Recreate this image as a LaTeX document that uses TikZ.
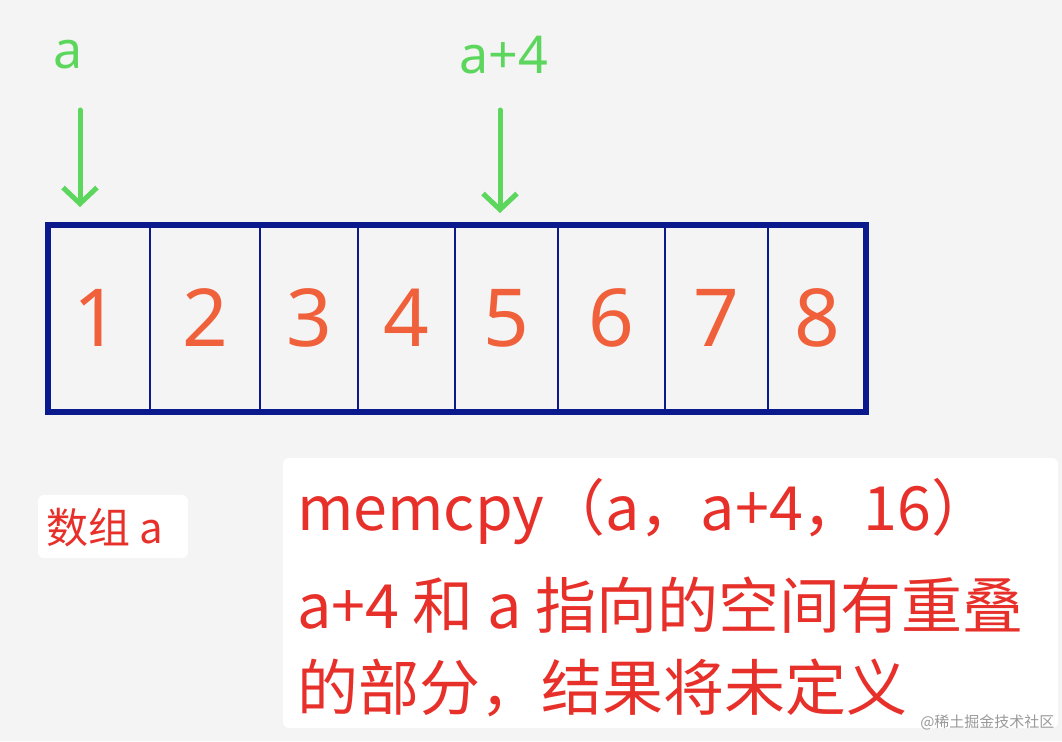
\documentclass[tikz,border=0pt]{standalone}
\usepackage{fontspec}
\setmainfont{Noto Sans}
\newfontfamily\cjk{Noto Sans CJK SC}
\usetikzlibrary{arrows.meta}
\definecolor{bg}{HTML}{F4F4F4}
\definecolor{arr}{HTML}{0A1A8C}
\definecolor{num}{HTML}{F0603A}
\definecolor{grn}{HTML}{5CD65C}
\definecolor{rtx}{HTML}{E8302A}
\tikzset{
  numtxt/.style={text=num,font=\bfseries\fontsize{80}{80}\selectfont},
  gtxt/.style={text=grn,font=\fontsize{52}{52}\selectfont},
  garrow/.style={draw=grn,line width=5pt,line cap=round,-{Straight Barb[length=16pt,width=34pt,line width=5pt]}},
  rtxt/.style={text=rtx,anchor=west,font=\cjk\fontsize{61}{61}\selectfont,inner sep=0pt},
  wbox/.style={fill=white,draw=none,rounded corners=6pt}
}
\begin{document}
\begin{tikzpicture}[x=1pt,y=-1pt]
\fill[bg] (0,0) rectangle (1062,741);
\useasboundingbox (0,0) rectangle (1062,741);
\foreach \x in {150,260,358,455,558,665,768}{\draw[arr,line width=2pt] (\x,225) -- (\x,412);}
\draw[arr,line width=6pt] (48,225) rectangle (866,412);
\foreach \n/\x in {1/96,2/205,3/309,4/406,5/506,6/611,7/716,8/817}{\node[numtxt] (n\n) at (\x,318) {\n};}
\node[gtxt] (la) at (68,55) {a};
\node[gtxt] (lb) at (504,55) {a+4};
\coordinate (ta) at (80,207);
\coordinate (tb) at (500,213);
\draw[garrow] (80,110) -- (ta);
\draw[garrow] (500,110) -- (tb);
\fill[wbox] (38,495) rectangle (188,558);
\node[rtxt,font=\cjk\fontsize{42}{42}\selectfont] (arrname) at (46,528) {数组 a};
\fill[wbox] (283,458) rectangle (1058,728);
\node[rtxt] (l1) at (297,512) {memcpy（a，a+4，16）};
\node[rtxt] (l2) at (297,605) {a+4 和 a 指向的空间有重叠};
\node[rtxt] (l3) at (297,688) {的部分，结果将未定义};
\node[anchor=east,text=gray!80,font=\cjk\fontsize{15}{15}\selectfont] (wm) at (1058,722) {@稀土掘金技术社区};
\end{tikzpicture}
\end{document}
